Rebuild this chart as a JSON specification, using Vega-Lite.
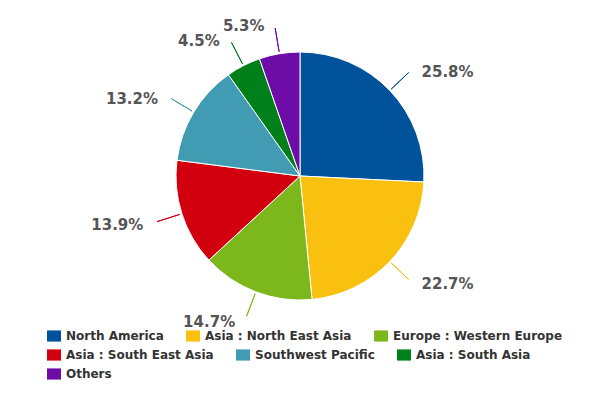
{
  "$schema": "https://vega.github.io/schema/vega-lite/v6.json",
  "width": 600,
  "height": 352,
  "padding": 0,
  "autosize": {"type": "pad"},
  "background": "white",
  "config": {
    "view": {"stroke": null},
    "legend": {
      "orient": "none",
      "direction": "horizontal",
      "columns": 3,
      "gridAlign": "each",
      "title": null,
      "symbolType": "M-1,-0.8H1V0.8H-1Z",
      "symbolSize": 196,
      "symbolStrokeWidth": 0,
      "labelFont": "DejaVu Sans",
      "labelFontSize": 12,
      "labelFontWeight": "bold",
      "labelColor": "#333333",
      "columnPadding": 22,
      "rowPadding": 6,
      "labelOffset": 5,
      "labelLimit": 300,
      "padding": 0
    }
  },
  "data": {
    "values": [
      {"Region": "North America", "Share": 25.8, "rank": 1},
      {"Region": "Asia : North East Asia", "Share": 22.7, "rank": 2},
      {"Region": "Europe : Western Europe", "Share": 14.7, "rank": 3},
      {"Region": "Asia : South East Asia", "Share": 13.9, "rank": 4},
      {"Region": "Southwest Pacific", "Share": 13.2, "rank": 5},
      {"Region": "Asia : South Asia", "Share": 4.5, "rank": 6},
      {"Region": "Others", "Share": 5.3, "rank": 7}
    ]
  },
  "encoding": {
    "theta": {"field": "Share", "type": "quantitative", "stack": true},
    "order": {"field": "rank", "type": "quantitative"}
  },
  "layer": [
    {
      "mark": {"type": "arc", "radius": 124, "stroke": "white", "strokeWidth": 1},
      "encoding": {
        "color": {
          "field": "Region",
          "type": "nominal",
          "scale": {
            "domain": ["North America", "Asia : North East Asia", "Europe : Western Europe", "Asia : South East Asia", "Southwest Pacific", "Asia : South Asia", "Others"],
            "range": ["#00529b", "#f9c00f", "#7cb71c", "#d2000f", "#409bb3", "#00801a", "#6e0ca8"]
          },
          "legend": {
            "legendX": 47,
            "legendY": 329,
            "values": ["North America", "Asia : North East Asia", "Europe : Western Europe"]
          }
        }
      }
    },
    {
      "mark": {"type": "arc", "radius": 150, "radius2": 126, "padAngle": 3.1416, "filled": false, "strokeWidth": 1},
      "encoding": {
        "stroke": {
          "field": "Region",
          "type": "nominal",
          "scale": {
            "domain": ["Others", "Asia : South Asia", "Southwest Pacific", "Asia : South East Asia", "Europe : Western Europe", "Asia : North East Asia", "North America"],
            "range": ["#6e0ca8", "#00801a", "#409bb3", "#d2000f", "#7cb71c", "#f9c00f", "#00529b"]
          },
          "legend": {
            "legendX": 47,
            "legendY": 348,
            "values": ["Asia : South East Asia", "Southwest Pacific", "Asia : South Asia", "Others"],
            "encode": {
              "symbols": {
                "update": {
                  "fill": {"scale": "stroke", "field": "value"},
                  "fillOpacity": {"value": 1},
                  "strokeWidth": {"value": 0}
                }
              }
            }
          }
        }
      }
    },
    {
      "mark": {
        "type": "text",
        "radius": 154,
        "font": "DejaVu Sans",
        "fontSize": 15,
        "fontWeight": "bold",
        "fill": "#555555",
        "baseline": "middle",
        "dy": 2,
        "dx": {"expr": "datum.Region == 'North America' || datum.Region == 'Asia : North East Asia' ? 10 : -10"},
        "align": {"expr": "datum.Region == 'North America' || datum.Region == 'Asia : North East Asia' ? 'left' : 'right'"},
        "text": {"expr": "format(datum.Share, '.1f') + '%'"}
      }
    }
  ]
}
